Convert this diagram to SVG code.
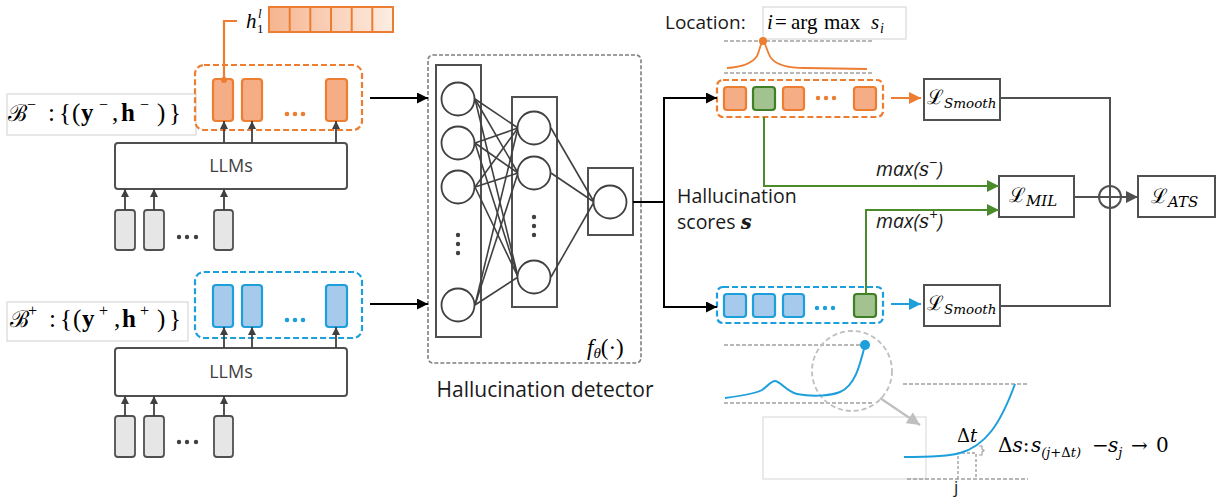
<svg xmlns="http://www.w3.org/2000/svg" width="1221" height="500" viewBox="0 0 1221 500">
<defs>
<linearGradient id="hg" x1="0" x2="1" y1="0" y2="0">
<stop offset="0" stop-color="#F6B48E"/><stop offset="1" stop-color="#FDEDE3"/>
</linearGradient>
<marker id="ak" viewBox="0 0 10 10" markerWidth="11" markerHeight="11" refX="10" refY="5" orient="auto" markerUnits="userSpaceOnUse"><path d="M0,0 L10,5 L0,10 z" fill="#000"/></marker>
<marker id="ag" viewBox="0 0 10 10" markerWidth="8" markerHeight="8" refX="10" refY="5" orient="auto" markerUnits="userSpaceOnUse"><path d="M0,0 L10,5 L0,10 z" fill="#404040"/></marker>
<marker id="agr" viewBox="0 0 10 10" markerWidth="12" markerHeight="12" refX="10" refY="5" orient="auto" markerUnits="userSpaceOnUse"><path d="M0,0 L10,5 L0,10 z" fill="#4A8C2C"/></marker>
<marker id="aor" viewBox="0 0 10 10" markerWidth="12" markerHeight="12" refX="10" refY="5" orient="auto" markerUnits="userSpaceOnUse"><path d="M0,0 L10,5 L0,10 z" fill="#ED7D31"/></marker>
<marker id="abl" viewBox="0 0 10 10" markerWidth="12" markerHeight="12" refX="10" refY="5" orient="auto" markerUnits="userSpaceOnUse"><path d="M0,0 L10,5 L0,10 z" fill="#1C9FDB"/></marker>
<marker id="adk" viewBox="0 0 10 10" markerWidth="12" markerHeight="12" refX="10" refY="5" orient="auto" markerUnits="userSpaceOnUse"><path d="M0,0 L10,5 L0,10 z" fill="#505050"/></marker>
<marker id="alg" viewBox="0 0 10 10" markerWidth="13" markerHeight="13" refX="10" refY="5" orient="auto" markerUnits="userSpaceOnUse"><path d="M0,0 L10,5 L0,10 z" fill="#BFBFBF"/></marker>
</defs>
<style>
.sans{font-family:"Open Sans","Noto Sans",sans-serif;fill:#1a1a1a}
.ser{font-family:"Liberation Serif","DejaVu Serif",serif;fill:#000}
.math{font-family:"DejaVu Serif","Liberation Serif",serif;fill:#000}
.inp{stroke:#505050;stroke-width:1.8;fill:#E6E6E6}
.orr{stroke:#ED7D31;stroke-width:2.2;fill:#F4AD85}
.blr{stroke:#1C9FDB;stroke-width:2.2;fill:#A6CAEC}
.grr{stroke:#3F7F26;stroke-width:2.2;fill:#A2C38F}
.odash{stroke:#ED7D31;stroke-width:2.2;fill:none;stroke-dasharray:6 3}
.bdash{stroke:#1C9FDB;stroke-width:2.2;fill:none;stroke-dasharray:6 3}
.gdash{stroke:#A0A0A0;stroke-width:1.6;fill:none;stroke-dasharray:4 2}
.lbl{stroke:#D0D0D0;stroke-width:1;fill:#fff}
.up{stroke:#404040;stroke-width:1.8;marker-end:url(#ag)}
.nn{stroke:#404040;stroke-width:1.6}
.cir{stroke:#404040;stroke-width:1.8;fill:#fff}
.lay{stroke:#505050;stroke-width:2;fill:none}
.box{stroke:#505050;stroke-width:2;fill:#fff}
</style>
<rect width="1221" height="500" fill="#fff"/>

<!-- h vector -->
<g id="h1-vector">
<rect x="269" y="7" width="124" height="25" fill="url(#hg)" stroke="#ED7D31" stroke-width="2"/>
<path d="M289.7,7v25M310.3,7v25M331,7v25M351.7,7v25M372.3,7v25" stroke="#ED7D31" stroke-width="2"/>
<text class="ser" font-style="italic" font-size="21" x="246" y="28">h</text>
<text class="ser" font-size="13" x="257" y="33">1</text>
<text class="ser" font-style="italic" font-size="13" x="258" y="18">l</text>
</g>

<!-- Negative branch -->
<g id="neg-label">
<rect class="lbl" x="7" y="94" width="189" height="41"/>
<text class="ser" font-size="25" y="121"><tspan x="8" font-family="DejaVu Serif" font-size="23">ℬ</tspan><tspan x="27" y="110" font-size="16">−</tspan><tspan x="48" y="121">:</tspan><tspan x="59">{</tspan><tspan x="72">(</tspan><tspan x="81" font-weight="bold">y</tspan><tspan x="99" y="110" font-size="16">−</tspan><tspan x="112" y="121">,</tspan><tspan x="121" font-weight="bold">h</tspan><tspan x="140" y="110" font-size="16">−</tspan><tspan x="157" y="121">)</tspan><tspan x="169">}</tspan></text>
</g>
<g id="neg-hidden">
<rect class="odash" x="195" y="65" width="167" height="65" rx="9"/>
<rect class="orr" x="213" y="79" width="20" height="42" rx="3"/>
<rect class="orr" x="242" y="79" width="20" height="42" rx="3"/>
<rect class="orr" x="326" y="79" width="21" height="42" rx="3"/>
<circle cx="287" cy="114" r="2.3" fill="#ED7D31"/><circle cx="295" cy="114" r="2.3" fill="#ED7D31"/><circle cx="303" cy="114" r="2.3" fill="#ED7D31"/>
</g>
<g id="neg-llm">
<rect class="box" x="115" y="143" width="232" height="46" rx="3"/>
<text class="sans" font-size="18" x="231" y="172" text-anchor="middle" style="fill:#404040">LLMs</text>
</g>
<g id="neg-inputs">
<rect class="inp" x="115" y="210" width="20" height="40" rx="3"/>
<rect class="inp" x="144" y="210" width="20" height="40" rx="3"/>
<rect class="inp" x="214" y="210" width="19" height="40" rx="3"/>
<circle cx="179" cy="237" r="2.2" fill="#404040"/><circle cx="187" cy="237" r="2.2" fill="#404040"/><circle cx="196" cy="237" r="2.2" fill="#404040"/>
</g>

<!-- Positive branch -->
<g id="pos-label">
<rect class="lbl" x="7" y="302" width="181" height="39"/>
<text class="ser" font-size="25" y="327"><tspan x="10" font-family="DejaVu Serif" font-size="23">ℬ</tspan><tspan x="28" y="316" font-size="16">+</tspan><tspan x="49" y="327">:</tspan><tspan x="60">{</tspan><tspan x="73">(</tspan><tspan x="82" font-weight="bold">y</tspan><tspan x="99" y="316" font-size="16">+</tspan><tspan x="114" y="327">,</tspan><tspan x="122" font-weight="bold">h</tspan><tspan x="140" y="316" font-size="16">+</tspan><tspan x="157" y="327">)</tspan><tspan x="169">}</tspan></text>
</g>
<g id="pos-hidden">
<rect class="bdash" x="195" y="272" width="167" height="66" rx="9"/>
<rect class="blr" x="213" y="285" width="20" height="42" rx="3"/>
<rect class="blr" x="242" y="285" width="20" height="42" rx="3"/>
<rect class="blr" x="326" y="285" width="21" height="42" rx="3"/>
<circle cx="287" cy="320" r="2.3" fill="#1C9FDB"/><circle cx="295" cy="320" r="2.3" fill="#1C9FDB"/><circle cx="303" cy="320" r="2.3" fill="#1C9FDB"/>
</g>
<g id="pos-llm">
<rect class="box" x="115" y="348" width="232" height="48" rx="3"/>
<text class="sans" font-size="18" x="231" y="378" text-anchor="middle" style="fill:#404040">LLMs</text>
</g>
<g id="pos-inputs">
<rect class="inp" x="115" y="416" width="20" height="41" rx="3"/>
<rect class="inp" x="144" y="416" width="20" height="41" rx="3"/>
<rect class="inp" x="214" y="416" width="19" height="41" rx="3"/>
<circle cx="179" cy="442" r="2.2" fill="#404040"/><circle cx="187" cy="442" r="2.2" fill="#404040"/><circle cx="196" cy="442" r="2.2" fill="#404040"/>
</g>

<!-- Detector -->
<g id="detector">
<rect x="428" y="55" width="213" height="308" rx="5" fill="none" stroke="#7F7F7F" stroke-width="1.6" stroke-dasharray="4 2"/>
<rect class="lay" x="436" y="65" width="45" height="272"/>
<rect class="lay" x="512" y="97" width="45" height="210"/>
<rect class="lay" x="588" y="168" width="45" height="67"/>
<g class="nn">
<line x1="475" y1="99" x2="518" y2="128"/><line x1="475" y1="99" x2="518" y2="173"/><line x1="475" y1="99" x2="518" y2="277"/>
<line x1="475" y1="143" x2="518" y2="128"/><line x1="475" y1="143" x2="518" y2="173"/><line x1="475" y1="143" x2="518" y2="277"/>
<line x1="475" y1="187" x2="518" y2="128"/><line x1="475" y1="187" x2="518" y2="173"/><line x1="475" y1="187" x2="518" y2="277"/>
<line x1="475" y1="305" x2="518" y2="128"/><line x1="475" y1="305" x2="518" y2="173"/><line x1="475" y1="305" x2="518" y2="277"/>
<line x1="551" y1="128" x2="594" y2="202"/><line x1="551" y1="173" x2="594" y2="202"/><line x1="551" y1="277" x2="594" y2="202"/>
</g>
<circle class="cir" cx="458" cy="99" r="16.5"/>
<circle class="cir" cx="458" cy="143" r="16.5"/>
<circle class="cir" cx="458" cy="187" r="16.5"/>
<circle class="cir" cx="458" cy="305" r="16.5"/>
<circle cx="458" cy="235" r="2.2" fill="#404040"/><circle cx="458" cy="244" r="2.2" fill="#404040"/><circle cx="458" cy="253" r="2.2" fill="#404040"/>
<circle class="cir" cx="534" cy="128" r="16.5"/>
<circle class="cir" cx="534" cy="173" r="16.5"/>
<circle class="cir" cx="534" cy="277" r="16.5"/>
<circle cx="534" cy="217" r="2.2" fill="#404040"/><circle cx="534" cy="226" r="2.2" fill="#404040"/><circle cx="534" cy="235" r="2.2" fill="#404040"/>
<circle class="cir" cx="610" cy="202" r="16.5"/>
<text class="ser" font-size="23" x="587" y="355"><tspan font-style="italic">f</tspan><tspan font-style="italic" font-size="15" dy="3">θ</tspan><tspan dy="-3">(·)</tspan></text>
<text class="sans" font-size="21" x="545" y="397" text-anchor="middle">Hallucination detector</text>
</g>

<!-- Score rows -->
<g id="location">
<text class="sans" font-size="19" x="665" y="29">Location:</text>
<rect class="lbl" x="763" y="7" width="143" height="32"/>
<text class="ser" font-size="21" y="29"><tspan x="767" font-style="italic">i</tspan><tspan x="775">=</tspan><tspan x="791">arg</tspan><tspan x="824">max</tspan><tspan x="871" font-style="italic">s</tspan><tspan x="880" y="33" font-size="14" font-style="italic">i</tspan></text>
</g>
<g id="neg-curve">
<line class="gdash" x1="724" y1="41" x2="874" y2="41"/>
<line class="gdash" x1="724" y1="73" x2="874" y2="73"/>
<path d="M727,68 C742,67 752,64 757,56 C760,50 761,41 763,41 C765,41 767,52 771,58 C777,66 790,68 805,68 L867,69" fill="none" stroke="#ED7D31" stroke-width="1.8"/>
<circle cx="763" cy="41" r="4" fill="#ED7D31"/>
</g>
<g id="neg-scores">
<rect class="odash" x="717" y="80" width="166" height="37" rx="6"/>
<rect class="orr" x="724" y="87" width="22" height="23" rx="3"/>
<rect class="grr" x="753" y="87" width="22" height="23" rx="3"/>
<rect class="orr" x="783" y="87" width="21" height="23" rx="3"/>
<rect class="orr" x="854" y="87" width="22" height="23" rx="3"/>
<circle cx="818" cy="98" r="2.2" fill="#ED7D31"/><circle cx="826" cy="98" r="2.2" fill="#ED7D31"/><circle cx="834" cy="98" r="2.2" fill="#ED7D31"/>
</g>
<g id="pos-scores">
<rect class="bdash" x="717" y="287" width="166" height="36" rx="6"/>
<rect class="blr" x="724" y="294" width="22" height="23" rx="3"/>
<rect class="blr" x="753" y="294" width="22" height="23" rx="3"/>
<rect class="blr" x="783" y="294" width="21" height="23" rx="3"/>
<rect class="grr" x="854" y="294" width="22" height="23" rx="3"/>
<circle cx="817" cy="308" r="2.2" fill="#1C9FDB"/><circle cx="825" cy="308" r="2.2" fill="#1C9FDB"/><circle cx="833" cy="308" r="2.2" fill="#1C9FDB"/>
</g>
<g id="scores-label">
<text class="sans" font-size="19.5" x="677" y="203">Hallucination</text>
<text class="sans" font-size="19.5" x="677" y="229">scores <tspan font-family="DejaVu Serif" font-style="italic" font-weight="bold">s</tspan></text>
</g>

<!-- Losses -->
<g id="loss-smooth-neg">
<rect class="box" x="924" y="79" width="76" height="41"/>
<text class="math" font-size="20" x="927" y="104">ℒ<tspan font-style="italic" font-size="13.5" dy="4">Smooth</tspan></text>
</g>
<g id="loss-smooth-pos">
<rect class="box" x="924" y="285" width="76" height="41"/>
<text class="math" font-size="20" x="927" y="310">ℒ<tspan font-style="italic" font-size="13.5" dy="4">Smooth</tspan></text>
</g>
<g id="loss-mil">
<rect class="box" x="999" y="176" width="75" height="41"/>
<text class="math" font-size="20" x="1009" y="202">ℒ<tspan font-style="italic" font-size="15" dy="4">MIL</tspan></text>
</g>
<g id="loss-ats">
<rect class="box" x="1138" y="176" width="77" height="41"/>
<text class="math" font-size="20" x="1151" y="203">ℒ<tspan font-style="italic" font-size="15" dy="4">ATS</tspan></text>
</g>

<!-- Zoom chart -->
<g id="pos-curve">
<line class="gdash" x1="724" y1="345" x2="865" y2="345"/>
<line class="gdash" x1="724" y1="403" x2="873" y2="403"/>
<circle cx="852" cy="371" r="40" fill="none" stroke="#BFBFBF" stroke-width="1.8" stroke-dasharray="5 3"/>
<path d="M725,398 C740,396 755,394 762,390 C768,386 771,381 775,381 C780,381 787,392 797,394 C812,397 830,396 840,392 C855,386 860,365 865,345" fill="none" stroke="#1C9FDB" stroke-width="2"/>
<circle cx="865" cy="345" r="5" fill="#1C9FDB"/>
</g>
<g id="zoom-chart">
<rect x="763" y="417" width="163" height="62" fill="none" stroke="#D6D6D6" stroke-width="1"/>
<line class="gdash" x1="903" y1="384" x2="1028" y2="384"/>
<line class="gdash" x1="907" y1="479" x2="1028" y2="479"/>
<path d="M958,479 V453 H976 V479" fill="none" stroke="#A0A0A0" stroke-width="1.4" stroke-dasharray="3 2"/>
<path d="M979,446 h3 v3 l2,1.5 l-2,1.5 v3 h-3" fill="none" stroke="#A0A0A0" stroke-width="1.2"/>
<path d="M904,457 C930,457 950,456 960,453 C985,446 1000,425 1015,384" fill="none" stroke="#1C9FDB" stroke-width="2"/>
<text class="math" font-size="18" x="957" y="442">Δ<tspan font-style="italic">t</tspan></text>
<text class="math" font-size="20" x="998" y="452">Δ<tspan font-style="italic">s</tspan>:<tspan x="1031" font-style="italic">s</tspan><tspan font-size="13" font-style="italic" dy="5">(j+</tspan><tspan font-size="13" dy="0">Δ</tspan><tspan font-size="13" font-style="italic">t)</tspan><tspan dy="-5" x="1092">−</tspan><tspan x="1108" font-style="italic">s</tspan><tspan font-size="13" font-style="italic" dy="5">j</tspan><tspan dy="-5" x="1131">→</tspan><tspan x="1156">0</tspan></text>
<text class="sans" font-size="17" x="954" y="493">j</text>
</g>

<g id="sum">
<circle cx="1110" cy="197" r="11" fill="none" stroke="#505050" stroke-width="2"/>
</g>

<!-- Connectors -->
<g id="connectors" fill="none">
<path d="M224,80 V21 H237" stroke="#ED7D31" stroke-width="2.2"/>
<circle cx="224" cy="80" r="3" fill="#ED7D31"/>
<line class="up" x1="224" y1="143" x2="224" y2="121"/>
<line class="up" x1="252" y1="143" x2="252" y2="121"/>
<line class="up" x1="336" y1="143" x2="336" y2="121"/>
<line class="up" x1="125" y1="210" x2="125" y2="189"/>
<line class="up" x1="154" y1="210" x2="154" y2="189"/>
<line class="up" x1="224" y1="210" x2="224" y2="189"/>
<line class="up" x1="224" y1="348" x2="224" y2="327"/>
<line class="up" x1="252" y1="348" x2="252" y2="327"/>
<line class="up" x1="336" y1="348" x2="336" y2="327"/>
<line class="up" x1="125" y1="416" x2="125" y2="396"/>
<line class="up" x1="154" y1="416" x2="154" y2="396"/>
<line class="up" x1="224" y1="416" x2="224" y2="396"/>
<line x1="370" y1="98" x2="428" y2="98" stroke="#000" stroke-width="2" marker-end="url(#ak)"/>
<line x1="370" y1="304" x2="428" y2="304" stroke="#000" stroke-width="2" marker-end="url(#ak)"/>
<path d="M633,202 H664" stroke="#000" stroke-width="2"/>
<path d="M717,98 H664 V307 H717" stroke="#000" stroke-width="2"/>
<line x1="700" y1="98" x2="717" y2="98" stroke="#000" stroke-width="2" marker-end="url(#ak)"/>
<line x1="700" y1="307" x2="717" y2="307" stroke="#000" stroke-width="2" marker-end="url(#ak)"/>
<path d="M764,117 V186 H999" stroke="#4A8C2C" stroke-width="2" marker-end="url(#agr)"/>
<path d="M866,294 V210 H999" stroke="#4A8C2C" stroke-width="2" marker-end="url(#agr)"/>
<text class="sans" font-size="19.5" font-style="italic" x="876" y="176">max(<tspan font-family="DejaVu Serif">s</tspan><tspan font-size="15" dy="-8">−</tspan><tspan dy="8">)</tspan></text>
<text class="sans" font-size="19.5" font-style="italic" x="876" y="228">max(<tspan font-family="DejaVu Serif">s</tspan><tspan font-size="15" dy="-8">+</tspan><tspan dy="8">)</tspan></text>
<line x1="891" y1="98" x2="921" y2="98" stroke="#ED7D31" stroke-width="2" marker-end="url(#aor)"/>
<line x1="891" y1="304" x2="921" y2="304" stroke="#1C9FDB" stroke-width="2" marker-end="url(#abl)"/>
<path d="M1000,98 H1110 V306 H1000" stroke="#505050" stroke-width="2"/>
<path d="M1074,197 H1121" stroke="#505050" stroke-width="2"/>
<line x1="1121" y1="197" x2="1138" y2="197" stroke="#505050" stroke-width="2" marker-end="url(#adk)"/>
<line x1="880" y1="398" x2="920" y2="425" stroke="#BFBFBF" stroke-width="2.2" marker-end="url(#alg)"/>
</g>
</svg>
